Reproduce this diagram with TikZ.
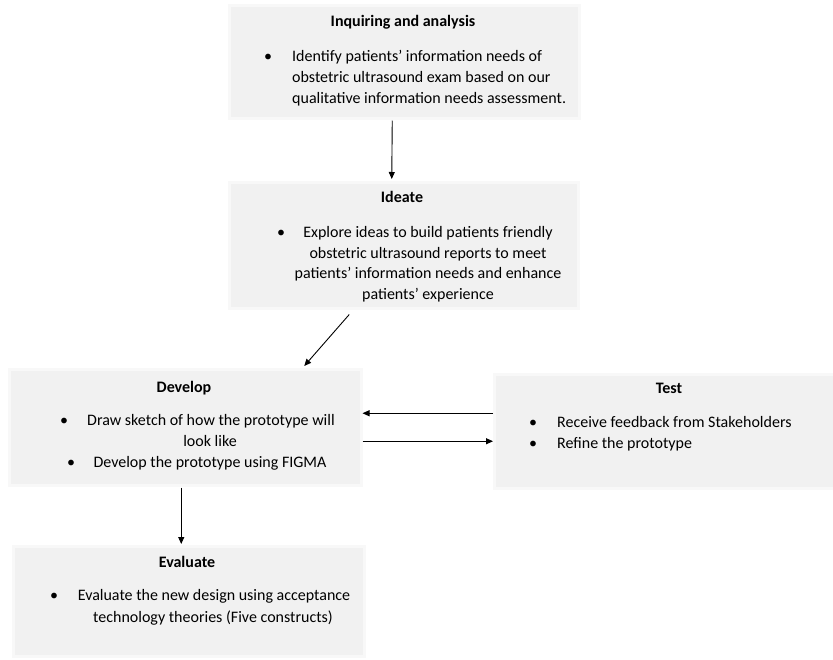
\documentclass[tikz,border=0pt]{standalone}
\usepackage{fontspec}
\setmainfont{Carlito}
\usetikzlibrary{arrows.meta}
\definecolor{boxfill}{HTML}{F1F1F1}
\definecolor{boxedge}{HTML}{F8F8F8}
\tikzset{
  stagebox/.style={rectangle, fill=boxfill, draw=boxedge, line width=2.5pt, anchor=north west, inner sep=0pt},
  ttl/.style={anchor=base, inner sep=0pt, font=\fontsize{16}{21}\selectfont\bfseries},
  txt/.style={anchor=base, inner sep=0pt, font=\fontsize{16}{21}\selectfont},
  txtl/.style={anchor=base west, inner sep=0pt, font=\fontsize{16}{21}\selectfont},
  bul/.style={anchor=base, inner sep=0pt, font=\fontsize{16}{21}\selectfont},
  arr/.style={-{Triangle[length=7pt,width=6pt]}, line width=0.9pt, black}
}
\begin{document}
\begin{tikzpicture}[x=1pt,y=-1pt]
\useasboundingbox (0,0) rectangle (833,659);
% boxes
\node[stagebox, minimum width=350pt, minimum height=113pt] (box1) at (228,4) {};
\node[stagebox, minimum width=349pt, minimum height=126pt] (box2) at (228,181) {};
\node[stagebox, minimum width=352pt, minimum height=116pt] (box3) at (8,368) {};
\node[stagebox, minimum width=345pt, minimum height=114pt] (box4) at (493,373) {};
\node[stagebox, minimum width=351pt, minimum height=110pt] (box5) at (12,545) {};
% box1 text
\node[ttl] (t1) at (403,26) {Inquiring and analysis};
\node[bul] (b1) at (268,61) {•};
\node[txtl] (l11) at (292,61) {Identify patients’ information needs of};
\node[txtl] (l12) at (292,82) {obstetric ultrasound exam based on our};
\node[txtl] (l13) at (292,103) {qualitative information needs assessment.};
% box2 text
\node[ttl] (t2) at (402,202) {Ideate};
\node[bul] (b2) at (281,237) {•};
\node[txt] (l21) at (428,237) {Explore ideas to build patients friendly};
\node[txt] (l22) at (428,258) {obstetric ultrasound reports to meet};
\node[txt] (l23) at (428,278) {patients’ information needs and enhance};
\node[txt] (l24) at (428,299) {patients’ experience};
% box3 text
\node[ttl] (t3) at (184,392) {Develop};
\node[bul] (b31) at (64,425) {•};
\node[txt] (l31) at (211,425) {Draw sketch of how the prototype will};
\node[txt] (l32) at (210,446) {look like};
\node[bul] (b32) at (71,467) {•};
\node[txt] (l33) at (210,467) {Develop the prototype using FIGMA};
% box4 text
\node[ttl] (t4) at (669,393) {Test};
\node[bul] (b41) at (533,427) {•};
\node[txtl] (l41) at (557,427) {Receive feedback from Stakeholders};
\node[bul] (b42) at (533,448) {•};
\node[txtl] (l42) at (557,448) {Refine the prototype};
% box5 text
\node[ttl] (t5) at (187,567) {Evaluate};
\node[bul] (b5) at (54,600) {•};
\node[txt] (l51) at (214,600) {Evaluate the new design using acceptance};
\node[txt] (l52) at (213,622) {technology theories (Five constructs)};
% arrows
\draw[arr] ([xshift=-12pt,yshift=-1pt]box1.south) -- ([xshift=-12pt,yshift=2pt]box2.north);
\draw[arr] ([xshift=-54.5pt,yshift=-5pt]box2.south) -- ([xshift=119pt,yshift=2pt]box3.north);
\draw[arr] ([yshift=18pt]box4.west) -- ([yshift=18pt]box4.west -| box3.east);
\draw[arr] ([yshift=-10pt]box4.west -| box3.east) -- ([yshift=-10pt]box4.west);
\draw[arr] ([xshift=-4pt,yshift=-1pt]box3.south) -- ([xshift=-4pt,yshift=1pt]box3.south |- box5.north);
\end{tikzpicture}
\end{document}
